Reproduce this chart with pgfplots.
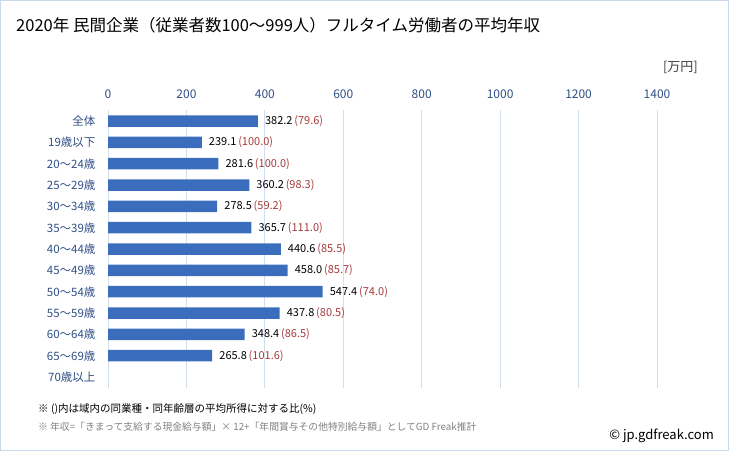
\documentclass[border=0pt]{standalone}
\usepackage{pgfplots}
\pgfplotsset{compat=1.18}
\usepackage{pgfplotstable}
\usepackage{fontspec}
\setmainfont{Noto Sans CJK JP}
\definecolor{tickblue}{HTML}{2F4F85}
\definecolor{gridc}{HTML}{D3DEEC}
\definecolor{barc}{HTML}{3A6EBD}
\definecolor{pctred}{HTML}{A53A3A}
\definecolor{framec}{HTML}{C9DAEE}
\pgfplotstableread{
y val pct
0 382.2 79.6
1 239.1 100.0
2 281.6 100.0
3 360.2 98.3
4 278.5 59.2
5 365.7 111.0
6 440.6 85.5
7 458.0 85.7
8 547.4 74.0
9 437.8 80.5
10 348.4 86.5
11 265.8 101.6
}\datatable
\begin{document}
\begin{tikzpicture}
\useasboundingbox (0bp,0bp) rectangle (729bp,451bp);
\draw[framec, line width=1bp] (0.5bp,0.5bp) rectangle (728.5bp,450.5bp);
\node[anchor=west, font=\fontsize{16.5bp}{19bp}\selectfont, inner sep=0] at (16bp,426bp) {2020年 民間企業（従業者数100～999人）フルタイム労働者の平均年収};
\node[anchor=east, font=\fontsize{13bp}{15bp}\selectfont, inner sep=0, text=black!75] at (698bp,384bp) {[万円]};
\begin{axis}[
  at={(108bp,63.3bp)}, anchor=south west,
  scale only axis, width=549bp, height=277.3bp,
  xmin=0, xmax=1400, ymin=-0.5, ymax=12.5,
  y dir=reverse,
  axis line style={draw=none},
  xmajorgrids, major grid style={gridc, line width=0.8bp},
  xtick={0,200,...,1400},
  xticklabel pos=upper,
  xtick style={draw=none}, ytick style={draw=none},
  /pgf/number format/assume math mode=true,
  /pgf/number format/1000 sep={},
  xticklabel style={font=\fontsize{12bp}{14bp}\selectfont, text=tickblue, yshift=8bp},
  ytick={0,...,12},
  yticklabels={全体,19歳以下,20～24歳,25～29歳,30～34歳,35～39歳,40～44歳,45～49歳,50～54歳,55～59歳,60～64歳,65～69歳,70歳以上},
  yticklabel style={font=\fontsize{11.5bp}{14bp}\selectfont, text=tickblue, xshift=-9bp},
  clip=false,
]
\addplot[xbar, bar width=11.5bp, draw=none, fill=barc,
  point meta=x,
  visualization depends on={\thisrow{pct}\as\plab},
  nodes near coords={\textcolor{black}{\pgfmathprintnumber[fixed,fixed zerofill,precision=1,assume math mode=true]{\pgfplotspointmeta}}\,\textcolor{pctred}{(\pgfmathprintnumber[fixed,fixed zerofill,precision=1,assume math mode=true]{\plab})}},
  nodes near coords style={anchor=west, font=\fontsize{11bp}{13bp}\selectfont, xshift=6bp, inner sep=1bp},
] table[x=val, y=y] {\datatable};
\end{axis}
\node[anchor=west, font=\fontsize{10.5bp}{12bp}\selectfont, inner sep=0] at (38bp,42bp) {※ ()内は域内の同業種・同年齢層の平均所得に対する比(\%)};
\node[anchor=west, font=\fontsize{9.8bp}{11bp}\selectfont, inner sep=0, text=black!50] at (38bp,24bp) {※ 年収=「きまって支給する現金給与額」× 12+「年間賞与その他特別給与額」としてGD Freak推計};
\node[anchor=east, font=\fontsize{13bp}{15bp}\selectfont, inner sep=0] at (714bp,15bp) {© jp.gdfreak.com};
\end{tikzpicture}
\end{document}
